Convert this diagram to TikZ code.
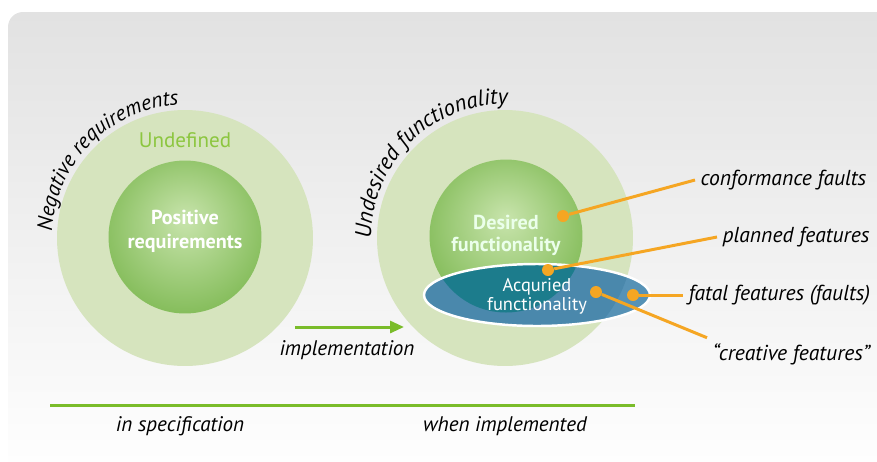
\documentclass[tikz,border=0pt]{standalone}
\usepackage{fontspec}
\setmainfont{PT Sans}
\usetikzlibrary{shapes.geometric,arrows.meta,decorations.text}

\definecolor{bggray}{RGB}{226,226,226}
\definecolor{ringgreen}{RGB}{214,228,190}
\definecolor{greenhi}{RGB}{200,228,172}
\definecolor{greenlo}{RGB}{104,172,56}
\definecolor{undefgreen}{RGB}{140,198,63}
\definecolor{linegreen}{RGB}{122,188,42}
\definecolor{featorange}{RGB}{245,166,35}
\definecolor{acqblue}{RGB}{74,136,172}
\definecolor{acqlight}{RGB}{86,146,182}
\definecolor{acqteal}{RGB}{28,124,140}

\pgfdeclareradialshading{greenball}{\pgfpoint{0bp}{6bp}}{%
  color(0bp)=(greenhi); color(18bp)=(greenhi!55!greenlo);
  color(40bp)=(greenlo); color(50bp)=(greenlo)}

\begin{document}
\begin{tikzpicture}[x=0.02cm,y=-0.02cm,
    ring/.style={circle, fill=ringgreen, inner sep=0pt, minimum size=5.12cm},
    ball/.style={circle, shading=greenball, inner sep=0pt, minimum size=3.06cm},
    dot/.style={circle, fill=featorange, inner sep=0pt, minimum size=0.24cm},
    lead/.style={featorange, line width=1.7pt},
    feature/.style={anchor=west, inner sep=3pt, font=\itshape\fontsize{12.3}{14}\selectfont},
    caption/.style={font=\itshape\fontsize{12}{14}\selectfont}]
  \useasboundingbox (0,0) rectangle (877,461);

  % Background
  \shade[top color=bggray, bottom color=white, rounded corners=0.3cm] (8,12) rectangle (900,480);

  % In specification
  \node[ring] (undefL) at (185,238) {};
  \node[ball] (posreq) at (185,237) {};
  \node[text=undefgreen, font=\fontsize{12}{14}\selectfont] (undef) at (185,140) {Undefined};
  \node[text=white, align=center, font=\bfseries\fontsize{11.5}{13.5}\selectfont] (pos) at (185,231) {Positive\\requirements};
  \path[decorate, decoration={text along path, text align=center,
      text={|\itshape\fontsize{12.2}{14}\selectfont|Negative requirements}}]
    (185,238) ++(155:133) arc[start angle=155, end angle=295, radius=133];

  % When implemented
  \node[ring] (undefR) at (505,238) {};
  \node[ball] (desired) at (506,236) {};
  \node[ellipse, fill=acqlight, inner sep=0pt, minimum width=4.52cm, minimum height=1.24cm] (acq) at (537,295) {};
  \begin{scope}
    \clip (acq.center) ellipse[x radius=113, y radius=31];
    \fill[acqblue] (undefR.center) circle[radius=128];
    \fill[acqteal] (desired.center) circle[radius=76.5];
  \end{scope}
  \draw[white, line width=1.4pt] (acq.center) ellipse[x radius=113, y radius=31];
  \node[text=green!8!white, align=center, font=\bfseries\fontsize{11.5}{12.5}\selectfont] (des) at (506,235) {Desired\\functionality};
  \node[text=white, align=center, font=\fontsize{10.5}{11}\selectfont] (acqtext) at (537,296) {Acquried\\functionality};
  \path[decorate, decoration={text along path, text align=center,
      text={|\itshape\fontsize{12.9}{14}\selectfont|Undesired functionality}}]
    (505,238) ++(155:134) arc[start angle=155, end angle=296, radius=134];

  % Features
  \node[dot] (d1) at (563,216) {};
  \node[dot] (d2) at (548,270) {};
  \node[dot] (d3) at (633,295) {};
  \node[dot] (d4) at (596,292) {};
  \node[feature] (conf) at (695,180) {conformance faults};
  \node[feature] (plan) at (717,237) {planned features};
  \node[feature] (fatal) at (683,295) {fatal features (faults)};
  \node[feature] (creat) at (707,354) {``creative features''};
  \draw[lead] (d1) -- (conf.west);
  \draw[lead] (d2) -- (plan.west);
  \draw[lead] (d3) -- (fatal.west);
  \draw[lead] (d4) -- (creat.north west);

  % Implementation arrow
  \coordinate (impA) at (295,327);
  \coordinate (impB) at (404,327);
  \draw[linegreen, line width=1.7pt, -{Triangle[length=0.28cm, width=0.24cm]}] (impA) -- (impB);
  \node[caption] (impl) at (347,350) {implementation};

  % Base line
  \coordinate (baseA) at (50,405);
  \coordinate (baseB) at (635,405);
  \draw[linegreen, line width=1.7pt] (baseA) -- (baseB);
  \node[caption] (spec) at (180,426) {in specification};
  \node[caption] (when) at (505,426) {when implemented};
\end{tikzpicture}
\end{document}
